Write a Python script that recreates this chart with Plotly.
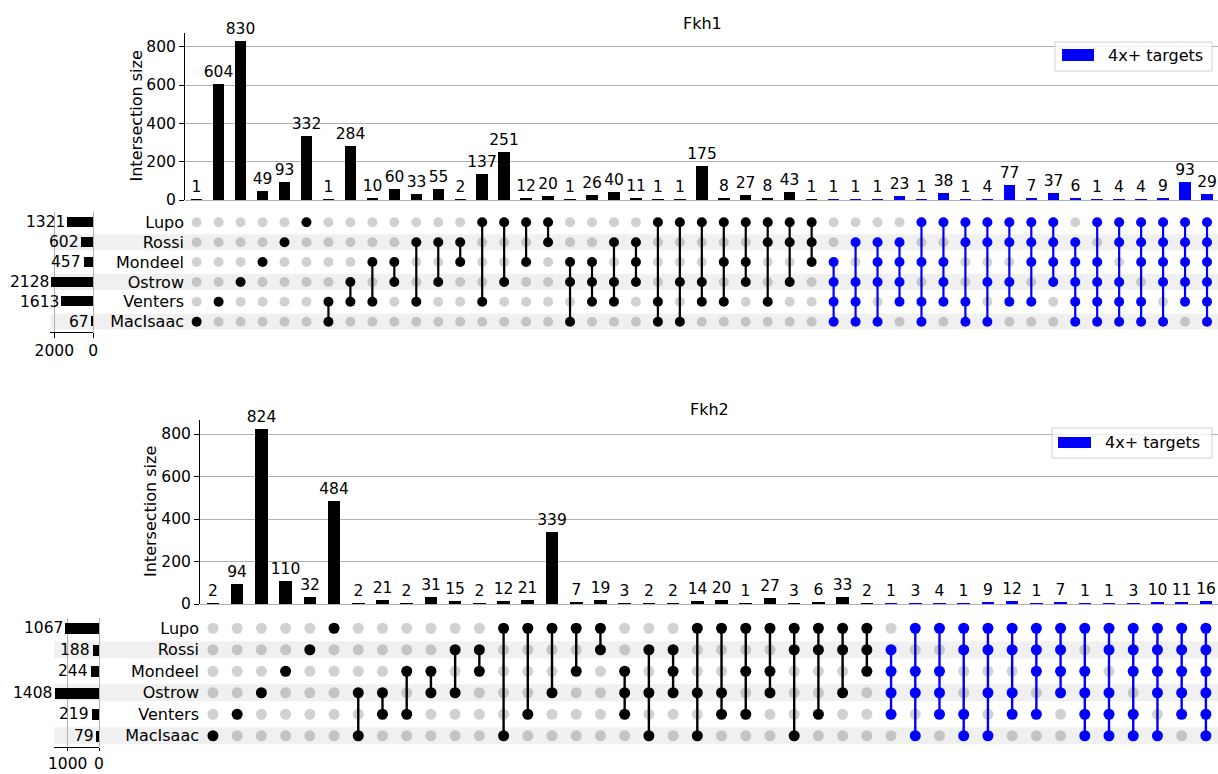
import plotly.graph_objects as go

# ---------------- data ----------------
SETS = ["Lupo", "Rossi", "Mondeel", "Ostrow", "Venters", "MacIsaac"]
TITLES = ["Fkh1", "Fkh2"]
LEGEND_LABEL = "4x+ targets"
HIGHLIGHT_MIN_DEGREE = 4
INTERSECTION_TICKS = [0, 200, 400, 600, 800]

FKH1_SET_SIZES = [1321, 602, 457, 2128, 1613, 67]
FKH1_SET_TICKS = [2000, 0]
FKH1_MEMBERS = [
    ("MacIsaac",), ("Venters",), ("Ostrow",), ("Mondeel",), ("Rossi",), ("Lupo",),
    ("Venters", "MacIsaac"), ("Ostrow", "Venters"), ("Mondeel", "Venters"),
    ("Mondeel", "Ostrow"), ("Rossi", "Venters"), ("Rossi", "Ostrow"),
    ("Rossi", "Mondeel"), ("Lupo", "Venters"), ("Lupo", "Ostrow"),
    ("Lupo", "Mondeel"), ("Lupo", "Rossi"),
    ("Mondeel", "Ostrow", "MacIsaac"), ("Mondeel", "Ostrow", "Venters"),
    ("Rossi", "Ostrow", "Venters"), ("Rossi", "Mondeel", "Ostrow"),
    ("Lupo", "Venters", "MacIsaac"), ("Lupo", "Ostrow", "MacIsaac"),
    ("Lupo", "Ostrow", "Venters"), ("Lupo", "Mondeel", "Venters"),
    ("Lupo", "Mondeel", "Ostrow"), ("Lupo", "Rossi", "Venters"),
    ("Lupo", "Rossi", "Ostrow"), ("Lupo", "Rossi", "Mondeel"),
    ("Mondeel", "Ostrow", "Venters", "MacIsaac"), ("Rossi", "Ostrow", "Venters", "MacIsaac"),
    ("Rossi", "Mondeel", "Ostrow", "MacIsaac"), ("Rossi", "Mondeel", "Ostrow", "Venters"),
    ("Lupo", "Mondeel", "Venters", "MacIsaac"), ("Lupo", "Mondeel", "Ostrow", "Venters"),
    ("Lupo", "Rossi", "Venters", "MacIsaac"), ("Lupo", "Rossi", "Ostrow", "MacIsaac"),
    ("Lupo", "Rossi", "Ostrow", "Venters"), ("Lupo", "Rossi", "Mondeel", "Venters"),
    ("Lupo", "Rossi", "Mondeel", "Ostrow"),
    ("Rossi", "Mondeel", "Ostrow", "Venters", "MacIsaac"),
    ("Lupo", "Mondeel", "Ostrow", "Venters", "MacIsaac"),
    ("Lupo", "Rossi", "Ostrow", "Venters", "MacIsaac"),
    ("Lupo", "Rossi", "Mondeel", "Venters", "MacIsaac"),
    ("Lupo", "Rossi", "Mondeel", "Ostrow", "MacIsaac"),
    ("Lupo", "Rossi", "Mondeel", "Ostrow", "Venters"),
    ("Lupo", "Rossi", "Mondeel", "Ostrow", "Venters", "MacIsaac"),
]
FKH1_COUNTS = [1, 604, 830, 49, 93, 332, 1, 284, 10, 60, 33, 55, 2, 137, 251, 12, 20,
               1, 26, 40, 11, 1, 1, 175, 8, 27, 8, 43, 1,
               1, 1, 1, 23, 1, 38, 1, 4, 77, 7, 37,
               6, 1, 4, 4, 9, 93, 29]

FKH2_SET_SIZES = [1067, 188, 244, 1408, 219, 79]
FKH2_SET_TICKS = [1000, 0]
FKH2_MEMBERS = [
    ("MacIsaac",), ("Venters",), ("Ostrow",), ("Mondeel",), ("Rossi",), ("Lupo",),
    ("Ostrow", "MacIsaac"), ("Ostrow", "Venters"), ("Mondeel", "Venters"),
    ("Mondeel", "Ostrow"), ("Rossi", "Ostrow"), ("Rossi", "Mondeel"),
    ("Lupo", "MacIsaac"), ("Lupo", "Venters"), ("Lupo", "Ostrow"),
    ("Lupo", "Mondeel"), ("Lupo", "Rossi"),
    ("Mondeel", "Ostrow", "Venters"), ("Rossi", "Ostrow", "MacIsaac"),
    ("Rossi", "Mondeel", "Ostrow"), ("Lupo", "Ostrow", "MacIsaac"),
    ("Lupo", "Ostrow", "Venters"), ("Lupo", "Mondeel", "Venters"),
    ("Lupo", "Mondeel", "Ostrow"), ("Lupo", "Rossi", "MacIsaac"),
    ("Lupo", "Rossi", "Venters"), ("Lupo", "Rossi", "Ostrow"),
    ("Lupo", "Rossi", "Mondeel"),
    ("Rossi", "Mondeel", "Ostrow", "Venters"), ("Lupo", "Mondeel", "Ostrow", "MacIsaac"),
    ("Lupo", "Mondeel", "Ostrow", "Venters"), ("Lupo", "Rossi", "Venters", "MacIsaac"),
    ("Lupo", "Rossi", "Ostrow", "MacIsaac"), ("Lupo", "Rossi", "Ostrow", "Venters"),
    ("Lupo", "Rossi", "Mondeel", "Venters"), ("Lupo", "Rossi", "Mondeel", "Ostrow"),
    ("Lupo", "Mondeel", "Ostrow", "Venters", "MacIsaac"),
    ("Lupo", "Rossi", "Ostrow", "Venters", "MacIsaac"),
    ("Lupo", "Rossi", "Mondeel", "Venters", "MacIsaac"),
    ("Lupo", "Rossi", "Mondeel", "Ostrow", "MacIsaac"),
    ("Lupo", "Rossi", "Mondeel", "Ostrow", "Venters"),
    ("Lupo", "Rossi", "Mondeel", "Ostrow", "Venters", "MacIsaac"),
]
FKH2_COUNTS = [2, 94, 824, 110, 32, 484, 2, 21, 2, 31, 15, 2, 12, 21, 339, 7, 19,
               3, 2, 2, 14, 20, 1, 27, 3, 6, 33, 2,
               1, 3, 4, 1, 9, 12, 1, 7,
               1, 1, 3, 10, 11, 16]

# ---------------- styles / geometry (pixels) ----------------
W, H = 1218, 774
FONT = "DejaVu Sans"
BLACK = "#000000"
BLUE = "#0000ff"
GRID = "#b0b0b0"
SHADE = "#f0f0f0"
OTHER_DOT = "rgba(0,0,0,0.18)"

GEOM = [
    dict(bar_left=185, bar_top=33, bar_zero=200, ymax=871.5, xr=(-0.53, 46.5),
         mat_top=212.4, mat_bot=331.6, tot_left=50.4, tot_right=93.3, tot_max=2200,
         dot=10, lw=2.2, title_xy=(702, 23), ylabel_x=136, tot_ticklen=5,
         leg_box=(1055, 42, 1212, 71), leg_patch=(1062, 49, 1094, 61), leg_text_x=1106),
    dict(bar_left=200, bar_top=420, bar_zero=604, ymax=866, xr=(-0.535, 41.5),
         mat_top=617.5, mat_bot=746.5, tot_left=54.2, tot_right=99.0, tot_max=1430,
         dot=11, lw=2.4, title_xy=(709, 409), ylabel_x=150, tot_ticklen=3,
         leg_box=(1052, 428, 1212, 458), leg_patch=(1058, 437, 1091, 448), leg_text_x=1103),
]


def fx(p):
    return p / W


def fy(p):
    return 1 - p / H


def axname(n, a):
    return f"{a}axis" + ("" if n == 1 else str(n))


def axref(n, a):
    return a + ("" if n == 1 else str(n))


fig = go.Figure()
layout = {}
shapes = []
annotations = []

panels = [
    (TITLES[0], FKH1_MEMBERS, FKH1_COUNTS, FKH1_SET_SIZES, FKH1_SET_TICKS),
    (TITLES[1], FKH2_MEMBERS, FKH2_COUNTS, FKH2_SET_SIZES, FKH2_SET_TICKS),
]

nsets = len(SETS)


def yrow(name):
    return nsets - 1 - SETS.index(name)


for k, (title, members, counts, set_sizes, set_ticks) in enumerate(panels):
    g = GEOM[k]
    nb, nm, nt = 3 * k + 1, 3 * k + 2, 3 * k + 3
    ncol = len(counts)
    cols = list(range(ncol))
    high = [len(m) >= HIGHLIGHT_MIN_DEGREE for m in members]
    colr = [BLUE if h else BLACK for h in high]

    # intersection bars
    fig.add_trace(go.Bar(
        x=cols, y=counts, marker=dict(color=colr, line=dict(width=0)), width=0.52,
        text=[str(c) for c in counts], textposition="outside", constraintext="none",
        textfont=dict(family=FONT, size=15.5, color=BLACK), cliponaxis=False,
        xaxis=axref(nb, "x"), yaxis=axref(nb, "y"), showlegend=False, hoverinfo="skip"))

    # matrix lines
    for hflag, c in ((False, BLACK), (True, BLUE)):
        lx, ly = [], []
        for i, m in enumerate(members):
            if high[i] == hflag and len(m) > 1:
                ys = [yrow(s) for s in m]
                lx += [i, i, None]
                ly += [min(ys), max(ys), None]
        fig.add_trace(go.Scatter(x=lx, y=ly, mode="lines", line=dict(color=c, width=g["lw"]),
                                 xaxis=axref(nm, "x"), yaxis=axref(nm, "y"), cliponaxis=False,
                                 showlegend=False, hoverinfo="skip"))
    # other dots
    ox, oy = [], []
    for i, m in enumerate(members):
        for s in SETS:
            if s not in m:
                ox.append(i)
                oy.append(yrow(s))
    fig.add_trace(go.Scatter(x=ox, y=oy, mode="markers", cliponaxis=False,
                             marker=dict(color=OTHER_DOT, size=g["dot"], line=dict(width=0)),
                             xaxis=axref(nm, "x"), yaxis=axref(nm, "y"),
                             showlegend=False, hoverinfo="skip"))
    # member dots
    mx, my, mc = [], [], []
    for i, m in enumerate(members):
        for s in m:
            mx.append(i)
            my.append(yrow(s))
            mc.append(colr[i])
    fig.add_trace(go.Scatter(x=mx, y=my, mode="markers", cliponaxis=False,
                             marker=dict(color=mc, size=g["dot"], line=dict(width=0)),
                             xaxis=axref(nm, "x"), yaxis=axref(nm, "y"),
                             showlegend=False, hoverinfo="skip"))

    # set size bars
    rows = [yrow(s) for s in SETS]
    fig.add_trace(go.Bar(
        x=set_sizes, y=rows, orientation="h", width=0.5,
        marker=dict(color=BLACK, line=dict(width=0)),
        xaxis=axref(nt, "x"), yaxis=axref(nt, "y"), showlegend=False, hoverinfo="skip"))
    for s, v in zip(SETS, set_sizes):
        annotations.append(dict(x=v, y=yrow(s), xref=axref(nt, "x"), yref=axref(nt, "y"),
                                text=str(v), showarrow=False, xanchor="right", yanchor="middle",
                                xshift=-1, font=dict(family=FONT, size=15.5, color=BLACK)))

    # shading bands
    for idx in range(1, nsets, 2):
        r = nsets - 1 - idx
        shapes.append(dict(type="rect", xref="paper", yref=axref(nm, "y"),
                           x0=fx(g["tot_left"]), x1=1, y0=r - 0.4, y1=r + 0.4,
                           fillcolor=SHADE, line=dict(width=0), layer="below"))

    # axes
    xdom = [fx(g["bar_left"]), 1]
    layout[axname(nb, "x")] = dict(domain=xdom, range=list(g["xr"]), visible=False,
                                   anchor=axref(nb, "y"), fixedrange=True, automargin=False)
    layout[axname(nb, "y")] = dict(
        domain=[fy(g["bar_zero"]), fy(g["bar_top"])], range=[0, g["ymax"]],
        tickvals=INTERSECTION_TICKS, showgrid=True, gridcolor=GRID, gridwidth=1,
        zeroline=True, zerolinecolor=GRID, zerolinewidth=1,
        showline=True, linecolor=BLACK, linewidth=1, ticks="outside", ticklen=5,
        tickcolor=BLACK, tickfont=dict(family=FONT, size=15.5, color=BLACK),
        anchor=axref(nb, "x"), fixedrange=True, automargin=False)
    mdom = [fy(g["mat_bot"]), fy(g["mat_top"])]
    layout[axname(nm, "x")] = dict(domain=xdom, range=list(g["xr"]), visible=False,
                                   anchor=axref(nm, "y"), fixedrange=True, automargin=False)
    layout[axname(nm, "y")] = dict(
        domain=mdom, range=[-0.5, nsets - 0.5], tickvals=rows, ticktext=SETS,
        showgrid=False, zeroline=False, showline=False, ticks="",
        tickfont=dict(family=FONT, size=16, color=BLACK),
        anchor=axref(nm, "x"), fixedrange=True, automargin=False)
    layout[axname(nt, "x")] = dict(
        domain=[fx(g["tot_left"]), fx(g["tot_right"])], range=[g["tot_max"], 0],
        tickvals=set_ticks, showgrid=True, gridcolor=GRID, gridwidth=1,
        zeroline=True, zerolinecolor=GRID, zerolinewidth=1,
        showline=True, linecolor=BLACK, linewidth=1, ticks="outside",
        ticklen=g["tot_ticklen"],
        tickcolor=BLACK, tickfont=dict(family=FONT, size=15.5, color=BLACK),
        anchor=axref(nt, "y"), fixedrange=True, automargin=False)
    layout[axname(nt, "y")] = dict(domain=mdom, range=[-0.5, nsets - 0.5], visible=False,
                                   anchor=axref(nt, "x"), fixedrange=True, automargin=False)

    # title and axis label
    annotations.append(dict(x=fx(g["title_xy"][0]), y=fy(g["title_xy"][1]), xref="paper",
                            yref="paper", text=title, showarrow=False, xanchor="center",
                            yanchor="middle", font=dict(family=FONT, size=16, color=BLACK)))
    annotations.append(dict(x=fx(g["ylabel_x"]), y=fy((g["bar_top"] + g["bar_zero"]) / 2),
                            xref="paper", yref="paper", text="Intersection size",
                            textangle=-90, showarrow=False, xanchor="center", yanchor="middle",
                            font=dict(family=FONT, size=16, color=BLACK)))

    # legend (manual)
    bx0, by0, bx1, by1 = g["leg_box"]
    shapes.append(dict(type="rect", xref="paper", yref="paper", x0=fx(bx0), x1=fx(bx1),
                       y0=fy(by1), y1=fy(by0), fillcolor="rgba(255,255,255,0.8)",
                       line=dict(color="#d0d0d0", width=1), layer="above"))
    px0, py0, px1, py1 = g["leg_patch"]
    shapes.append(dict(type="rect", xref="paper", yref="paper", x0=fx(px0), x1=fx(px1),
                       y0=fy(py1), y1=fy(py0), fillcolor=BLUE, line=dict(width=0),
                       layer="above"))
    annotations.append(dict(x=fx(g["leg_text_x"]), y=fy((py0 + py1) / 2), xref="paper",
                            yref="paper", text=LEGEND_LABEL, showarrow=False, xanchor="left",
                            yanchor="middle", font=dict(family=FONT, size=16, color=BLACK)))

fig.update_layout(
    width=W, height=H, margin=dict(l=0, r=0, t=0, b=0, pad=0, autoexpand=False),
    paper_bgcolor="white", plot_bgcolor="rgba(0,0,0,0)",
    showlegend=False, hovermode=False, bargap=0,
    font=dict(family=FONT, size=15.5, color=BLACK),
    shapes=shapes, annotations=annotations, **layout)

fig.write_html("out.html", config={"displayModeBar": False},
               post_script="document.body.style.margin='0';")
